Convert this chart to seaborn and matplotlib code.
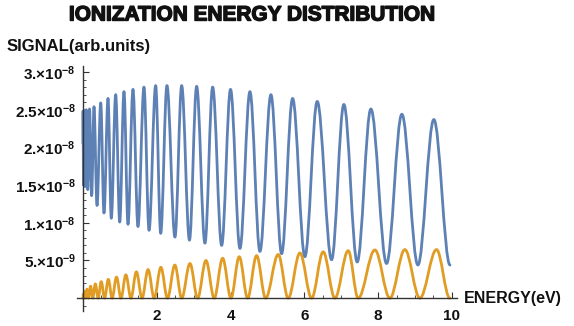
import matplotlib
matplotlib.use("Agg")
import matplotlib.pyplot as plt
from matplotlib.path import Path
from matplotlib.patches import PathPatch
from matplotlib.ticker import MultipleLocator
import matplotlib.patheffects as pe
import seaborn as sns

# Turning points of the two signals (energy in eV, signal in units of 1e-9)
blue_energy = [0.0, 0.002, 0.012, 0.029, 0.055, 0.088, 0.129, 0.177, 0.234, 0.298,
               0.38, 0.48, 0.569, 0.678, 0.767, 0.886, 0.995, 1.111, 1.22, 1.355,
               1.49, 1.653, 1.79, 1.97, 2.106, 2.276, 2.493, 2.675, 2.886, 3.081,
               3.306, 3.515, 3.759, 4.0, 4.255, 4.526, 4.797, 5.095, 5.385, 5.683,
               6.016, 6.35, 6.74, 7.073, 7.434, 7.805, 8.23, 8.645, 9.08, 9.512, 9.95]
blue_signal = [20.5, 24.8, 15.0, 24.9, 14.8, 25.0, 14.4, 25.1, 13.6, 25.4,
               12.3, 25.9, 11.3, 26.5, 10.6, 27.0, 10.1, 27.4, 9.8, 27.7,
               9.5, 28.0, 9.0, 28.2, 8.6, 28.2, 8.1, 28.2, 7.7, 28.1,
               7.3, 28.0, 7.0, 27.7, 6.6, 27.4, 6.2, 27.0, 5.9, 26.5,
               5.5, 26.1, 5.1, 25.7, 4.8, 25.1, 4.6, 24.4, 4.4, 23.7, 4.4]

orange_energy = [0.0, 0.006, 0.02, 0.041, 0.07, 0.108, 0.15, 0.205, 0.265, 0.334,
                 0.41, 0.494, 0.585, 0.686, 0.79, 0.908, 1.03, 1.162, 1.30, 1.447,
                 1.60, 1.764, 1.93, 2.111, 2.29, 2.49, 2.675, 2.9, 3.108, 3.333,
                 3.558, 3.786, 4.011, 4.236, 4.463, 4.707, 4.951, 5.293, 5.564, 5.881,
                 6.198, 6.512, 6.829, 7.19, 7.461, 7.913, 8.32, 8.726, 9.133, 9.585, 9.946]
orange_signal = [0.0, 0.5, 0.0, 0.9, 0.0, 1.2, 0.0, 1.6, 0.0, 1.9,
                 0.0, 2.2, 0.0, 2.5, 0.0, 2.8, 0.0, 3.1, 0.0, 3.5,
                 0.0, 3.8, 0.0, 4.1, 0.0, 4.4, 0.0, 4.6, 0.0, 5.0,
                 0.0, 5.3, 0.0, 5.5, 0.0, 5.65, 0.0, 5.8, 0.0, 6.0,
                 0.0, 6.15, 0.0, 6.3, 0.0, 6.4, 0.0, 6.45, 0.0, 6.45, 0.0]

x_ticks = [2, 4, 6, 8, 10]
x_tick_labels = ["2", "4", "6", "8", "10"]
y_ticks = [5e-9, 1e-8, 1.5e-8, 2e-8, 2.5e-8, 3e-8]
y_tick_labels = ["5.×10$^{-9}$", "1.×10$^{-8}$", "1.5×10$^{-8}$",
                 "2.×10$^{-8}$", "2.5×10$^{-8}$", "3.×10$^{-8}$"]

BLUE = "#5E81B5"
ORANGE = "#E19C24"
AXIS = "#333333"
INK = "#111111"

sns.set_style("ticks")
plt.rcParams["font.family"] = ["Liberation Sans", "DejaVu Sans"]
plt.rcParams["font.weight"] = "bold"
plt.rcParams["mathtext.fontset"] = "custom"
plt.rcParams["mathtext.rm"] = "Liberation Sans:bold"
plt.rcParams["mathtext.bf"] = "Liberation Sans:bold"
plt.rcParams["mathtext.it"] = "Liberation Sans:bold"
plt.rcParams["mathtext.default"] = "bf"


def smooth_path(xs, ys, scale=1e-9, k=0.36):
    """Cubic Bezier path through turning points with flat tangents at each one."""
    verts = [(xs[0], ys[0] * scale)]
    codes = [Path.MOVETO]
    for x0, y0, x1, y1 in zip(xs[:-1], ys[:-1], xs[1:], ys[1:]):
        dx = x1 - x0
        verts += [(x0 + k * dx, y0 * scale), (x1 - k * dx, y1 * scale), (x1, y1 * scale)]
        codes += [Path.CURVE4] * 3
    return Path(verts, codes)


fig = plt.figure(figsize=(5.74, 3.26), dpi=100)
ax = fig.add_axes([77 / 574, 15 / 326, 380 / 574, 245 / 326])

for xs, ys, color in [(blue_energy, blue_signal, BLUE),
                      (orange_energy, orange_signal, ORANGE)]:
    ax.add_patch(PathPatch(smooth_path(xs, ys), facecolor="none",
                           edgecolor=color, lw=2.0, capstyle="round",
                           joinstyle="round"))

ax.set_xlim(-0.163, 10.14)
ax.set_ylim(-1.7e-9, 30.8e-9)

sns.despine(ax=ax)
for side in ["left", "bottom"]:
    ax.spines[side].set_position(("data", 0))
    ax.spines[side].set_color(AXIS)
    ax.spines[side].set_linewidth(1.0)

ax.set_xticks(x_ticks, x_tick_labels)
ax.set_yticks(y_ticks, y_tick_labels)
ax.xaxis.set_minor_locator(MultipleLocator(0.5))
ax.yaxis.set_minor_locator(MultipleLocator(1e-9))
ax.tick_params(axis="both", which="major", direction="in", length=4, width=0.8,
               color=AXIS, labelsize=11, labelcolor=INK)
ax.tick_params(axis="both", which="minor", direction="in", length=2, width=0.6,
               color=AXIS)
ax.tick_params(axis="x", which="major", pad=8)
ax.tick_params(axis="y", which="major", pad=5)
for lab in ax.get_xticklabels() + ax.get_yticklabels():
    lab.set_fontweight("bold")

heavy = [pe.withStroke(linewidth=1.0, foreground=INK)]
fig.text(252 / 574, 1 - 15 / 326, "IONIZATION ENERGY DISTRIBUTION",
         ha="center", va="center", fontsize=15, fontweight="bold", color=INK,
         path_effects=heavy)
fig.text(7 / 574, 1 - 47 / 326, "SIGNAL(arb.units)", ha="left", va="center",
         fontsize=12, fontweight="bold", color=INK)
fig.text(464 / 574, 1 - 298 / 326, "ENERGY(eV)", ha="left", va="center",
         fontsize=11.5, fontweight="bold", color=INK)

fig.savefig("out.png", dpi=100)
